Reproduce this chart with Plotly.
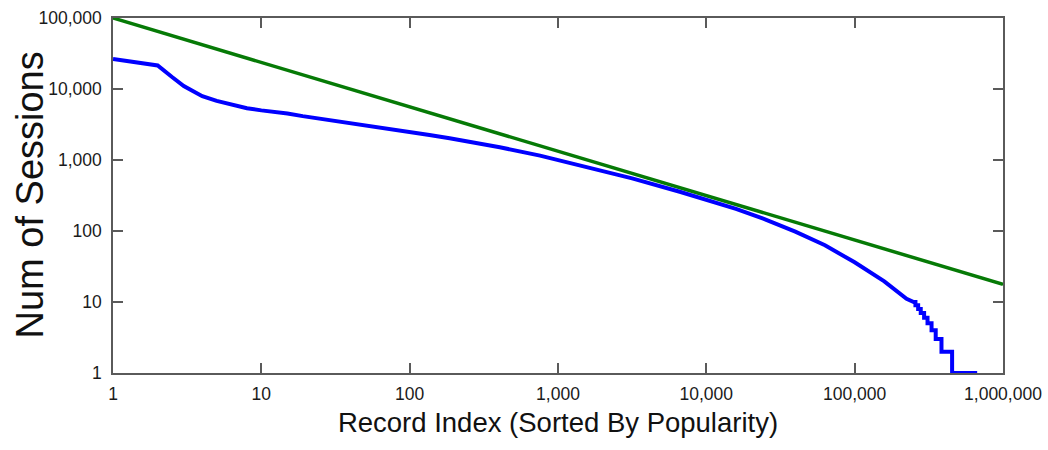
import plotly.graph_objects as go

# Session counts per record, records ranked by popularity (rank 1 = most popular).
# The long tail is integer-valued, so it ends in a staircase down to single sessions.
rank = [1, 2, 2.5, 3, 3.5, 4, 5, 6, 8, 10, 13, 14, 15, 19, 30, 51, 86, 100,
        136, 186, 316, 405, 757, 1910, 3162, 6620, 10000, 15850, 25120, 39810,
        63100, 100000, 158500, 199500, 223900, 250000,
        257000, 257000, 268000, 268000, 279000, 279000, 294000, 294000,
        310000, 310000, 330000, 330000, 352000, 352000, 385000, 385000,
        454000, 454000, 670000]
sessions = [26500, 21500, 14750, 11000, 9200, 7900, 6800, 6150, 5350, 5000, 4700, 4680,
            4520, 4150, 3620, 3080, 2560, 2450,
            2250, 2030, 1680, 1510, 1153, 724, 552, 357, 277, 205, 145, 98,
            63, 36.2, 19.5, 13.6, 11.1, 10,
            10, 9, 9, 8, 8, 7, 7, 6,
            6, 5, 5, 4, 4, 3, 3, 2,
            2, 1, 1]

# Power-law reference line
fit_rank = [1, 1000000]
fit_sessions = [100000, 17.7]

x_tickvals = [1, 10, 100, 1000, 10000, 100000, 1000000]
x_ticktext = ["1", "10", "100", "1,000", "10,000", "100,000", "1,000,000"]
y_tickvals = [1, 10, 100, 1000, 10000, 100000]
y_ticktext = ["1", "10", "100", "1,000", "10,000", "100,000"]

FONT = "Liberation Sans, Arial, sans-serif"

fig = go.Figure()
fig.add_trace(go.Scatter(x=fit_rank, y=fit_sessions, mode="lines",
                         line=dict(color="#067a06", width=3.5), showlegend=False))
fig.add_trace(go.Scatter(x=rank, y=sessions, mode="lines",
                         line=dict(color="#0000ff", width=4), showlegend=False))

axis_common = dict(
    type="log",
    automargin=False,
    showgrid=False,
    zeroline=False,
    showline=True,
    linecolor="#5a5a5a",
    linewidth=1.5,
    mirror="ticks",
    ticks="inside",
    ticklen=10,
    tickwidth=1.5,
    tickcolor="#5a5a5a",
    tickfont=dict(family=FONT, size=17.5, color="#1a1a1a"),
)

fig.update_xaxes(**axis_common, range=[0, 6.0002], tickvals=x_tickvals, ticktext=x_ticktext,
                 ticklabelstandoff=4,
                 title=dict(text="Record Index (Sorted By Popularity)",
                            font=dict(family=FONT, size=27.5, color="#111111"),
                            standoff=10))
fig.update_yaxes(**axis_common, range=[0, 5], tickvals=y_tickvals, ticktext=y_ticktext,
                 ticklabelstandoff=6)

# Vertical axis title, placed left of the tick labels
fig.add_annotation(text="Num of Sessions", textangle=-90,
                   xref="paper", yref="paper", x=0, y=0.5,
                   xanchor="center", yanchor="middle", xshift=-84,
                   showarrow=False,
                   font=dict(family=FONT, size=38, color="#111111"))

fig.update_layout(
    width=1048,
    height=450,
    margin=dict(l=113, r=45, t=18, b=77),
    paper_bgcolor="white",
    plot_bgcolor="white",
)

fig.write_html("out.html")
